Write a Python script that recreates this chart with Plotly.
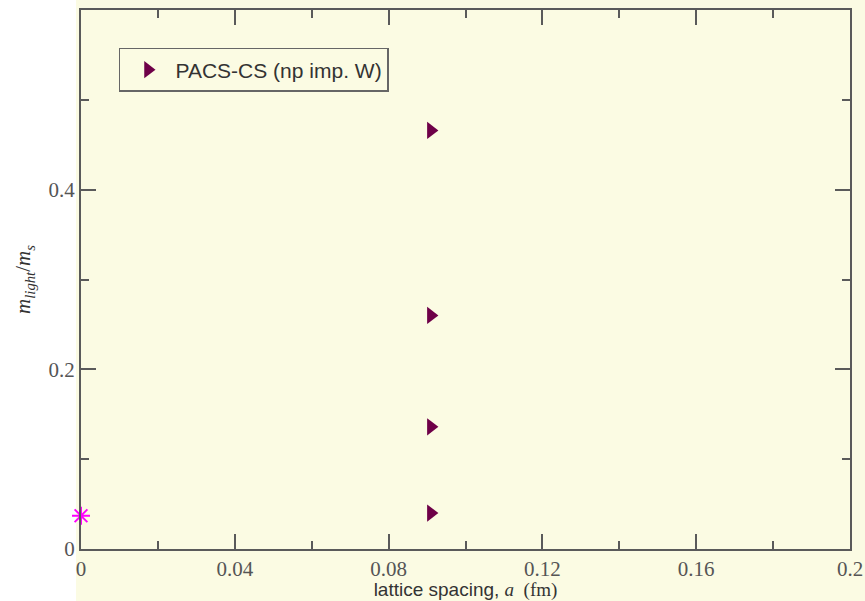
import plotly.graph_objects as go

# Data
pacs_a = [0.091, 0.091, 0.091, 0.091]
pacs_ratio = [0.466, 0.260, 0.136, 0.040]
phys_a = [0.0]
phys_ratio = [0.037]

x_tickvals = [0, 0.04, 0.08, 0.12, 0.16, 0.2]
x_ticktext = ["0", "0.04", "0.08", "0.12", "0.16", "0.2"]
y_tickvals = [0, 0.2, 0.4]
y_ticktext = ["0", "0.2", "0.4"]

BG = "#fbfbe3"
AX = "#5a5a5a"

fig = go.Figure()
fig.add_trace(go.Scatter(
    x=pacs_a, y=pacs_ratio, mode="markers", name="PACS-CS (np imp. W)",
    marker=dict(symbol="triangle-right", size=15, color="#6e0048"),
    cliponaxis=False))
fig.add_trace(go.Scatter(
    x=phys_a, y=phys_ratio, mode="markers", showlegend=False,
    marker=dict(symbol="asterisk-open", size=15, color="#ff00ff",
                line=dict(color="#ff00ff", width=2)),
    cliponaxis=False))

axis_common = dict(
    showgrid=False, zeroline=False, showline=True, linecolor=AX, linewidth=2,
    mirror="allticks", ticks="inside", ticklen=15, tickwidth=2, tickcolor=AX,
    automargin=False,
    tickfont=dict(family="Liberation Serif", size=21, color="#555555"),
)

fig.update_xaxes(
    range=[0, 0.2], tickvals=x_tickvals, ticktext=x_ticktext,
    minor=dict(ticks="inside", ticklen=8, tickwidth=2, tickcolor=AX, dtick=0.02, tick0=0),
    title=dict(
        text='lattice spacing, <span style="font-family:Liberation Serif"><i>a</i>  (fm)</span>',
        font=dict(family="Liberation Sans", size=19, color="#333333"), standoff=2),
    **axis_common)
fig.update_yaxes(
    range=[0, 0.6], tickvals=y_tickvals, ticktext=y_ticktext,
    minor=dict(ticks="inside", ticklen=8, tickwidth=2, tickcolor=AX, dtick=0.1, tick0=0),
    title=dict(text="<i>m</i><sub><i>light</i></sub>/<i>m</i><sub><i>s</i></sub>",
               font=dict(family="Liberation Serif", size=21, color="#333333"), standoff=12),
    **axis_common)

fig.add_shape(type="rect", xref="paper", yref="paper",
              x0=-0.2, x1=-5/769, y0=-0.2, y1=1.1,
              fillcolor="white", line=dict(width=0), layer="below")

fig.update_layout(
    width=865, height=601,
    margin=dict(l=81, r=15, t=10, b=52, autoexpand=False),
    paper_bgcolor=BG, plot_bgcolor=BG,
    legend=dict(x=0.0494, y=0.9295, xanchor="left", yanchor="top",
                bgcolor=BG, bordercolor="#666666", borderwidth=1.5,
                itemwidth=45,
                font=dict(family="Liberation Sans", size=21, color="#333333")),
)

fig.write_html("out.html")
